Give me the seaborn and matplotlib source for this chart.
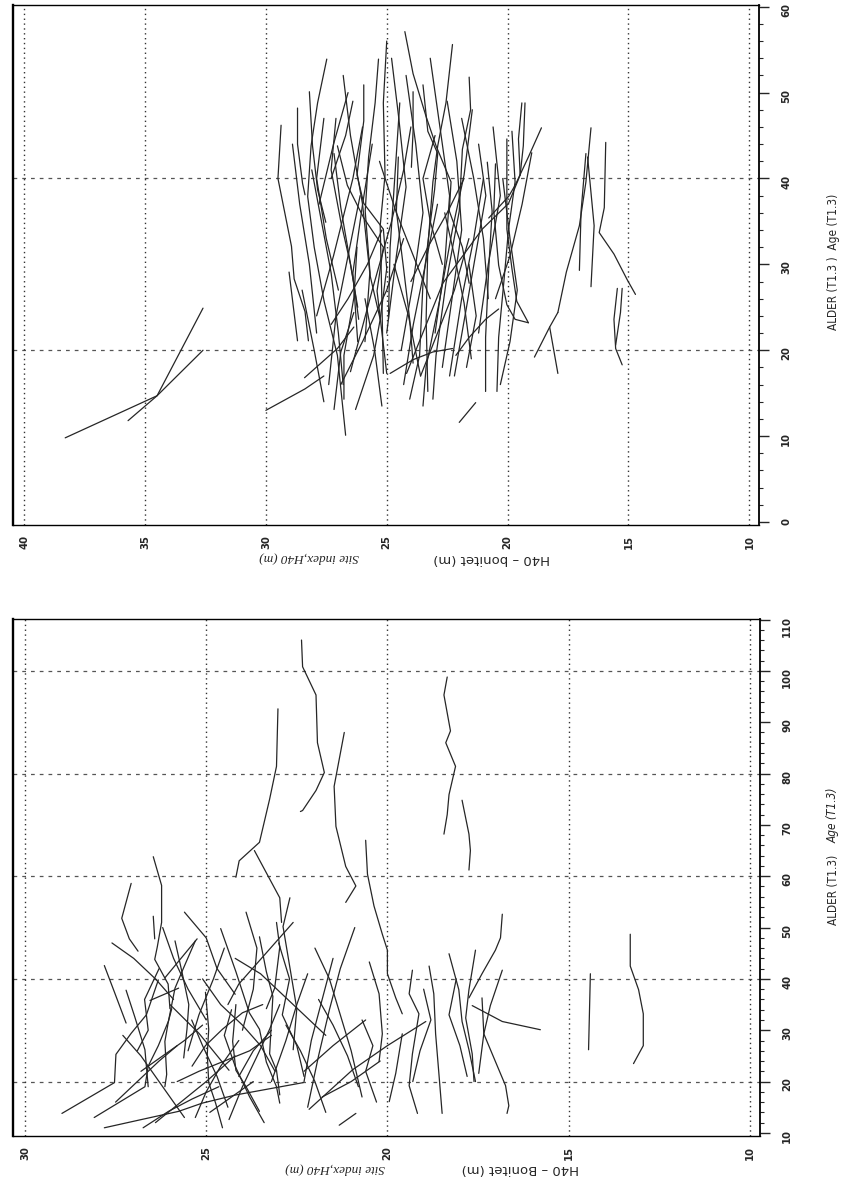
"""
Site index (H40) against age at breast height for two sample sets.
The original scan is turned a quarter turn, so H40 runs along the bottom
(decreasing to the right) and age runs up the right-hand side.
"""

import matplotlib
matplotlib.use("Agg")

import matplotlib.pyplot as plt
from matplotlib.ticker import MultipleLocator
import pandas as pd
import seaborn as sns

# ---- upper panel: one list per tree (H40 in m, age in years) ----
TOP_H40 = [
    [38.3, 34.5, 32.6],
    [35.7, 34.5, 32.6],
    [29.37, 29.5, 28.94, 28.83, 28.38, 28.24],
    [28.69, 28.69, 28.48, 28.38],
    [29.04, 28.69],
    [30.0, 28.38, 27.6],
    [27.48, 27.86, 28.13, 28.27, 28.0, 27.59, 27.04, 26.7],
    [28.2, 28.07, 27.86, 27.52],
    [27.04, 26.63, 25.95, 25.14, 25.4, 25.0],
    [25.95, 25.95, 26.23, 25.95, 25.14, 25.0, 25.27, 25.54, 26.29],
    [25.34, 25.48, 25.75, 25.89, 25.68, 25.27],
    [25.0, 25.14, 25.07, 25.27, 25.2, 25.14],
    [27.18, 26.9, 26.36, 26.16],
    [26.36, 26.9, 27.18],
    [28.4, 27.04, 26.36],
    [26.23, 26.36, 26.77, 26.77],
    [24.25, 23.91, 23.37, 22.96, 22.34, 22.41, 21.87, 21.59],
    [23.91, 23.91, 23.98],
    [23.5, 23.3, 22.89, 23.02, 23.23, 23.5, 23.64, 24.05],
    [22.28, 22.55, 22.89, 23.09, 23.3, 23.37, 23.3],
    [21.59, 21.53, 21.87, 22.0, 22.55, 22.96, 23.09],
    [21.46, 21.8, 22.28, 22.82, 23.37, 23.5],
    [24.52, 24.6, 24.32, 24.05, 23.91],
    [24.46, 24.66, 24.86, 24.93],
    [20.84, 20.64, 20.78, 20.91, 20.91],
    [20.5, 20.57, 20.37, 20.03, 19.69, 19.14],
    [20.03, 20.03, 19.82, 19.62, 19.14],
    [19.82, 19.69, 19.96, 20.16, 20.37, 20.44],
    [19.41, 19.55, 19.48, 19.96, 21.05, 22.68, 24.18],
    [18.6, 19.14, 19.69, 19.96, 20.78],
    [19.28, 19.35, 19.48],
    [22.14, 21.59, 20.91, 20.37],
    [22.0, 21.32],
    [24.86, 23.91, 23.09, 22.28],
    [18.89, 18.26, 17.92],
    [18.26, 17.92],
    [17.92, 17.57, 17.03, 16.76, 16.55],
    [17.03, 16.96, 16.76],
    [16.55, 16.42, 16.69],
    [15.94, 16.0, 16.21, 15.6, 15.05, 14.71],
    [15.46, 15.6, 15.53, 15.26],
    [15.26, 15.33, 15.53],
    [27.1, 27.3, 26.9, 26.5, 26.2],
    [26.0, 26.4, 27.2, 27.9],
    [24.0, 24.3, 24.8, 25.6, 26.5],
    [22.6, 22.2, 21.8, 21.5],
    [21.2, 20.9, 21.3, 21.7, 22.2],
    [28.9, 28.6, 28.2, 27.9],
    [28.1, 27.7, 27.3, 27.0, 26.8],
    [27.6, 27.9, 27.5, 27.0],
    [26.8, 26.5, 26.0, 25.7, 25.9],
    [26.1, 26.6, 27.1, 27.4],
    [25.6, 26.0, 26.4, 26.2],
    [24.8, 24.5, 24.2, 24.6, 25.0],
    [24.2, 23.8, 23.5, 23.9, 24.4],
    [23.2, 22.8, 22.4, 22.6, 23.0],
    [22.9, 23.4, 23.9, 24.3],
    [22.5, 22.1, 21.9, 22.3, 22.7],
    [21.9, 21.4, 21.0, 20.8],
    [21.0, 21.4, 21.9, 22.4],
    [20.6, 20.3, 20.8, 21.2],
    [20.2, 19.9, 19.6, 19.9, 20.3],
    [27.3, 26.6, 25.8, 25.2],
    [25.3, 24.6, 23.9, 23.2],
    [24.0, 23.3, 22.5, 21.8],
    [26.9, 26.0, 25.0, 24.3],
    [23.6, 22.9, 22.2, 21.6],
    [28.5, 28.0, 27.6],
    [26.4, 26.7, 27.3],
    [25.9, 25.5, 25.2],
    [21.6, 21.3, 21.7],
    [24.7, 24.1, 23.6],
    [19.0, 19.4, 19.9, 20.5],
    [27.8, 27.2, 26.6],
    [23.0, 23.5, 23.2, 22.7],
]
TOP_AGE = [
    [9.8, 14.7, 24.9],
    [11.8, 14.7, 20.0],
    [46.2, 40.0, 32.1, 28.3, 24.5, 21.1],
    [48.2, 44.0, 39.4, 38.1],
    [29.1, 21.1],
    [13.0, 15.5, 17.0],
    [53.9, 48.8, 43.8, 37.9, 32.0, 25.7, 19.4, 10.1],
    [50.1, 43.8, 38.7, 34.9],
    [43.8, 39.2, 35.4, 32.0, 26.9, 17.3],
    [50.9, 46.7, 40.4, 37.1, 34.1, 29.5, 23.6, 19.4, 13.1],
    [53.9, 48.8, 42.5, 36.2, 28.6, 23.6],
    [56.0, 48.8, 40.4, 34.5, 25.7, 17.3],
    [42.9, 36.6, 27.8, 23.6],
    [24.4, 19.8, 13.1],
    [16.8, 20.2, 22.7],
    [32.0, 26.1, 19.4, 14.3],
    [57.1, 52.2, 47.2, 43.8, 39.6, 36.2, 32.0, 27.8],
    [50.1, 45.5, 41.3],
    [50.9, 45.5, 42.9, 38.7, 34.1, 27.8, 19.4, 14.3],
    [55.6, 48.8, 43.8, 39.6, 32.0, 23.6, 15.2],
    [51.8, 48.0, 43.4, 36.2, 27.8, 19.4, 14.3],
    [48.0, 40.4, 34.1, 25.7, 18.1, 13.5],
    [42.5, 36.2, 29.9, 23.6, 18.5],
    [48.8, 40.4, 32.0, 23.6],
    [41.9, 36.2, 29.5, 21.5, 15.2],
    [41.7, 36.2, 29.9, 25.3, 23.6, 23.2],
    [44.6, 34.1, 29.5, 25.7, 23.2],
    [45.5, 39.6, 34.1, 27.8, 21.5, 15.2],
    [48.8, 44.6, 40.4, 37.1, 34.1, 27.8, 17.3],
    [45.9, 42.5, 39.2, 37.9, 35.4],
    [48.8, 43.8, 40.4],
    [19.4, 21.5, 23.6, 24.8],
    [11.6, 13.9],
    [17.3, 18.9, 19.8, 20.2],
    [19.2, 22.7, 24.4],
    [22.7, 17.3],
    [24.4, 29.1, 34.5, 39.6, 45.9],
    [29.3, 36.2, 42.9],
    [27.4, 34.5, 42.5],
    [44.2, 36.6, 33.7, 31.2, 28.2, 26.5],
    [27.2, 23.6, 20.2, 18.3],
    [27.2, 24.4, 20.6],
    [47.0, 41.0, 35.0, 30.0, 25.0],
    [46.0, 40.0, 31.0, 24.0],
    [46.0, 41.0, 35.0, 27.0, 17.5],
    [36.0, 31.0, 25.5, 19.0],
    [44.0, 38.0, 31.5, 25.0, 17.0],
    [44.0, 37.0, 30.0, 22.0],
    [41.0, 35.0, 29.0, 22.0, 16.0],
    [47.0, 40.0, 33.0, 27.0],
    [52.0, 45.0, 37.0, 29.0, 21.0],
    [38.0, 31.0, 24.0, 16.0],
    [44.0, 37.0, 29.0, 21.0],
    [54.0, 47.0, 39.0, 31.0, 22.0],
    [52.0, 44.0, 36.0, 28.0, 20.0],
    [54.0, 46.0, 38.0, 30.0, 22.0],
    [37.0, 30.0, 23.0, 16.0],
    [49.0, 42.0, 34.0, 26.0, 18.0],
    [47.0, 40.0, 33.0, 26.0],
    [40.0, 33.0, 26.0, 17.0],
    [46.0, 38.0, 30.0, 22.0],
    [40.0, 33.0, 27.0, 21.0, 16.0],
    [23.0, 26.0, 30.0, 34.0],
    [42.0, 36.0, 31.0, 26.0],
    [28.0, 32.0, 36.0, 40.0],
    [16.0, 21.0, 27.0, 33.0],
    [17.0, 22.0, 27.0, 33.0],
    [27.0, 20.0, 14.0],
    [49.0, 45.0, 40.0],
    [26.0, 20.0, 13.5],
    [30.0, 24.0, 18.0],
    [30.0, 24.0, 17.0],
    [43.0, 37.0, 31.0, 26.0],
    [37.0, 44.0, 50.0],
    [45.0, 40.0, 35.0, 30.0],
]

# ---- lower panel ----
BOT_H40 = [
    [22.37, 22.34, 21.97, 21.93, 21.74, 21.97, 22.34, 22.4],
    [23.02, 23.06, 23.25, 23.53, 24.09, 24.18],
    [23.67, 22.97, 22.92],
    [26.46, 26.23, 26.23, 26.35, 26.42, 26.05, 26.0],
    [27.07, 27.33, 27.12, 26.88],
    [27.81, 27.53, 27.21],
    [28.98, 27.53, 27.49, 27.07, 26.65, 26.32],
    [28.09, 26.69, 26.6, 26.32, 26.04, 25.95],
    [27.81, 26.79, 25.76, 25.11, 24.18, 23.25, 22.32],
    [26.74, 26.04, 25.39, 24.65],
    [24.6, 24.18, 23.81, 23.53, 23.34, 23.06, 22.97],
    [25.86, 25.67, 25.48, 25.53, 25.62],
    [25.3, 25.62, 25.86, 26.04, 26.14, 26.09, 26.14],
    [23.53, 23.34, 23.16, 23.25, 23.06, 22.97],
    [23.06, 22.97, 23.11, 23.34],
    [22.69, 22.88, 22.69, 22.5, 22.6],
    [25.02, 24.93, 24.97, 24.93, 24.74, 24.55],
    [24.18, 24.27, 24.18, 23.9, 23.53],
    [24.37, 24.0, 23.62, 23.25, 22.97],
    [25.39, 25.02, 24.55, 24.0, 23.44],
    [26.55, 25.76],
    [26.0, 25.2, 24.74, 24.37],
    [26.46, 26.42],
    [26.14, 25.25],
    [27.21, 26.97, 26.69, 26.6],
    [21.19, 21.47, 21.42, 21.15, 20.87, 21.15],
    [20.6, 20.55, 20.37, 20.14, 20.0, 20.0, 19.77, 19.59],
    [18.35, 18.44, 18.26, 18.39, 18.12, 18.3, 18.35, 18.44],
    [17.94, 17.75, 17.71, 17.75],
    [16.83, 16.88, 17.02, 17.39, 17.75],
    [16.83, 17.16, 17.34, 17.48],
    [17.57, 17.66, 17.75, 17.84, 17.66, 17.61],
    [19.31, 19.4, 19.13, 19.31, 19.4, 19.17],
    [18.3, 18.03, 17.94, 17.75, 17.57],
    [17.66, 16.83, 15.78],
    [17.39, 17.34, 17.02, 16.74, 16.65, 16.7],
    [18.85, 18.72, 18.67, 18.58, 18.49],
    [20.5, 20.23, 20.14, 20.23],
    [22.16, 20.96, 20.0, 18.94],
    [21.33, 20.87],
    [19.95, 19.77, 19.59],
    [14.4, 14.45],
    [13.3, 13.3, 13.07, 12.94, 12.94, 13.21],
    [22.0, 21.6, 21.3, 21.0, 20.7],
    [21.5, 21.8, 22.1, 22.3],
    [20.9, 21.3, 21.6, 21.9, 22.2],
    [22.3, 21.5, 20.6],
    [21.8, 21.0, 20.2],
    [27.6, 27.0, 26.4, 25.9],
    [27.3, 26.8, 26.4, 26.0, 25.6],
    [26.2, 25.9, 25.5, 25.0],
    [25.1, 24.6, 24.0, 23.5, 23.1],
    [24.5, 24.8, 25.2, 25.5],
    [23.9, 23.6, 23.7, 24.0],
    [23.0, 22.7, 22.9, 22.5, 22.3],
    [22.2, 22.5, 22.8, 23.2],
    [25.8, 25.2, 24.5, 23.8, 23.2],
    [24.9, 24.3, 23.7],
    [26.4, 25.7, 25.0, 24.2],
    [23.4, 23.8, 24.2, 24.5, 24.3],
    [22.8, 22.4, 22.0, 21.7],
    [21.9, 21.5, 21.1, 20.8],
    [26.9, 26.6, 26.7, 26.3],
    [24.2, 23.5, 22.9, 22.3, 21.7],
    [25.6, 25.0, 24.7, 24.2],
    [27.5, 26.9, 26.3, 25.8],
    [20.7, 20.4, 20.6, 20.3],
    [19.0, 18.8, 19.1, 19.3],
    [18.1, 18.3, 18.0, 17.8],
    [22.6, 23.1, 23.6, 24.1, 24.4],
    [25.4, 25.1, 24.7, 24.4],
    [26.8, 26.2, 25.6, 25.1],
    [24.1, 24.6, 25.0, 25.3],
    [23.2, 23.7, 24.1],
]
BOT_AGE = [
    [106.0, 100.8, 95.3, 86.0, 80.2, 76.7, 72.8, 72.6],
    [92.6, 81.4, 75.0, 66.6, 63.0, 59.8],
    [65.0, 55.8, 51.0],
    [63.8, 58.2, 51.0, 46.2, 43.8, 39.0, 34.2],
    [58.6, 51.8, 47.8, 45.4],
    [42.6, 37.4, 31.4],
    [13.8, 19.8, 25.3, 29.4, 33.0, 39.8],
    [13.0, 19.0, 23.0, 27.0, 31.8, 34.2],
    [11.0, 12.6, 14.2, 15.8, 17.4, 18.6, 19.8],
    [11.0, 14.2, 16.6, 19.0],
    [49.8, 41.4, 33.4, 30.2, 23.8, 19.0, 15.8],
    [47.4, 41.4, 35.0, 30.2, 24.6],
    [47.4, 42.2, 38.2, 31.8, 27.8, 21.4, 19.0],
    [48.2, 41.4, 36.6, 25.4, 22.2, 17.4],
    [51.0, 46.2, 38.2, 34.2],
    [55.8, 50.2, 42.2, 34.2, 26.2],
    [37.4, 30.2, 25.4, 19.8, 15.8, 11.0],
    [35.0, 27.8, 22.2, 19.0, 14.2],
    [12.6, 19.0, 24.6, 30.2, 35.0],
    [23.0, 27.0, 30.2, 33.4, 35.0],
    [35.8, 38.2],
    [35.0, 29.4, 25.4, 22.2],
    [52.2, 47.8],
    [40.2, 47.8],
    [37.8, 32.6, 26.2, 19.0],
    [88.0, 77.5, 69.7, 61.9, 58.1, 54.9],
    [67.0, 60.4, 54.2, 48.7, 45.6, 41.0, 36.3, 33.2],
    [98.8, 95.3, 88.3, 86.0, 81.4, 75.9, 72.0, 68.2],
    [74.8, 68.2, 65.0, 61.2],
    [52.6, 48.0, 45.6, 41.0, 36.3],
    [41.7, 34.8, 29.3, 21.6],
    [45.6, 41.7, 37.9, 32.4, 25.4, 20.0],
    [41.7, 37.1, 33.2, 25.4, 19.2, 13.8],
    [44.9, 37.9, 31.7, 26.2, 20.0],
    [34.8, 31.7, 30.1],
    [36.3, 29.3, 23.9, 19.2, 15.3, 13.8],
    [42.5, 37.1, 29.3, 21.6, 13.8],
    [43.3, 37.1, 29.3, 23.9],
    [14.6, 22.3, 27.0, 31.7],
    [11.5, 13.8],
    [16.1, 21.6, 29.3],
    [41.0, 26.2],
    [48.7, 42.5, 37.9, 33.2, 27.0, 23.5],
    [46.0, 40.0, 33.0, 26.0, 17.0],
    [44.0, 36.0, 28.0, 20.0],
    [50.0, 42.0, 34.0, 25.0, 15.0],
    [22.0, 27.0, 32.0],
    [17.0, 20.0, 24.0],
    [47.0, 44.0, 40.0, 36.0],
    [29.0, 25.0, 21.0, 17.0, 13.0],
    [50.0, 44.0, 38.0, 32.0],
    [40.0, 35.0, 31.0, 27.0, 22.0],
    [46.0, 40.0, 33.0, 26.0],
    [53.0, 46.0, 38.0, 30.0],
    [47.0, 40.0, 33.0, 27.0, 21.0],
    [41.0, 35.0, 28.0, 20.0],
    [20.0, 22.0, 24.0, 26.0, 29.0],
    [14.0, 17.0, 20.0],
    [12.0, 16.0, 20.0, 25.0],
    [12.0, 17.0, 23.0, 29.0, 34.0],
    [31.0, 26.0, 20.0, 14.0],
    [36.0, 31.0, 25.0, 19.0],
    [26.0, 30.0, 36.0, 42.0],
    [44.0, 41.0, 37.0, 33.0, 29.0],
    [53.0, 48.0, 42.0, 37.0],
    [16.0, 20.0, 24.0, 27.0],
    [32.0, 27.0, 22.0, 16.0],
    [38.0, 32.0, 26.0, 20.0],
    [40.0, 33.0, 27.0, 21.0],
    [51.0, 47.0, 43.0, 39.0, 35.0],
    [32.0, 27.0, 21.0, 15.0],
    [22.0, 25.0, 28.0, 31.0],
    [28.0, 23.0, 18.0, 13.0],
    [30.0, 26.0, 21.0],
]

TOP_XTICKS = [40, 35, 30, 25, 20, 15, 10]
TOP_YTICKS = [0, 10, 20, 30, 40, 50, 60]
TOP_HGRID = [20, 40]
BOT_XTICKS = [30, 25, 20, 15, 10]
BOT_YTICKS = [10, 20, 30, 40, 50, 60, 70, 80, 90, 100, 110]
BOT_HGRID = [20, 40, 60, 80, 100]

W, H = 852, 1180
TICK_FONT = ["Liberation Sans Narrow", "DejaVu Sans"]


def to_frame(h40s, ages):
    rows = []
    for i, (hs, ag) in enumerate(zip(h40s, ages)):
        for h, a in zip(hs, ag):
            rows.append((i, h, a))
    return pd.DataFrame(rows, columns=["tree", "h40", "age"])


def draw_panel(ax, h40s, ages, xticks, yticks, hgrid, xlim, ylim):
    df = to_frame(h40s, ages)
    sns.lineplot(data=df, x="h40", y="age", units="tree", estimator=None,
                 sort=False, color="#262626", lw=0.9, legend=False, ax=ax)

    ax.set_xlim(*xlim)
    ax.set_ylim(*ylim)
    ax.set_xticks(xticks)
    ax.set_yticks(yticks)
    ax.xaxis.set_minor_locator(MultipleLocator(0.5))
    ax.yaxis.set_minor_locator(MultipleLocator(2))
    ax.yaxis.tick_right()
    ax.set_xlabel("")
    ax.set_ylabel("")

    ax.grid(axis="x", which="major", ls=(0, (1, 2.5)), color="#333333", lw=1.0)
    ax.grid(axis="y", visible=False)
    for v in hgrid:
        ax.axhline(v, ls=(0, (3, 4)), color="#555555", lw=0.9, zorder=0)

    ax.tick_params(axis="y", which="major", direction="out", length=7,
                   width=1.0, labelrotation=90, pad=9, labelsize=8)
    ax.tick_params(axis="y", which="minor", direction="out", length=3, width=0.8)
    ax.tick_params(axis="x", which="major", direction="out", length=3,
                   width=0.8, labelrotation=90, pad=4, labelsize=8)
    ax.tick_params(axis="x", which="minor", direction="in", length=1.5, width=0.6)
    for lab in ax.get_xticklabels() + ax.get_yticklabels():
        lab.set_fontfamily(TICK_FONT)
        lab.set_fontweight("bold")
        lab.set_fontstretch("condensed")

    for side, lw in {"left": 1.7, "right": 1.3, "bottom": 1.0, "top": 1.0}.items():
        ax.spines[side].set_visible(True)
        ax.spines[side].set_color("black")
        ax.spines[side].set_linewidth(lw)


def fig_text(fig, x, y, s, **kw):
    fig.text(x / W, 1 - y / H, s, ha="center", va="center", **kw)


sns.set_theme(style="white")
plt.rcParams["font.family"] = ["DejaVu Sans"]

fig = plt.figure(figsize=(W / 100, H / 100), dpi=100)
ax_top = fig.add_axes([13 / W, 1 - 525 / H, 746 / W, 520 / H])
ax_bot = fig.add_axes([13 / W, 1 - 1136 / H, 747 / W, 517 / H])

draw_panel(ax_top, TOP_H40, TOP_AGE, TOP_XTICKS, TOP_YTICKS, TOP_HGRID,
           (40.46, 9.6), (-0.35, 60.2))
draw_panel(ax_bot, BOT_H40, BOT_AGE, BOT_XTICKS, BOT_YTICKS, BOT_HGRID,
           (30.33, 9.72), (9.4, 110.1))

# axis titles (the H40 titles are upside down in the scan)
serif_it = dict(style="italic", family=["Liberation Serif", "DejaVu Serif"])
fig_text(fig, 309, 558, "Site index,H40 (m)", rotation=180, fontsize=9.5, **serif_it)
fig_text(fig, 492, 558, "H40 – bonitet (m)", rotation=180, fontsize=9.5)
fig_text(fig, 335, 1169, "Site index,H40 (m)", rotation=180, fontsize=9.5, **serif_it)
fig_text(fig, 520, 1169, "H40 – Bonitet (m)", rotation=180, fontsize=9.5)

fig_text(fig, 833, 262, "ALDER (T1.3 )  Age (T1.3)", rotation=90,
         fontsize=8.5, family=TICK_FONT, fontstretch="condensed")
fig_text(fig, 833, 890, "ALDER (T1.3)", rotation=90, fontsize=8.5,
         family=TICK_FONT, fontstretch="condensed")
fig_text(fig, 833, 815, "Age (T1.3)", rotation=90, fontsize=8.5,
         style="italic", family=TICK_FONT, fontstretch="condensed")

fig.savefig("out.png", dpi=100, facecolor="white")
